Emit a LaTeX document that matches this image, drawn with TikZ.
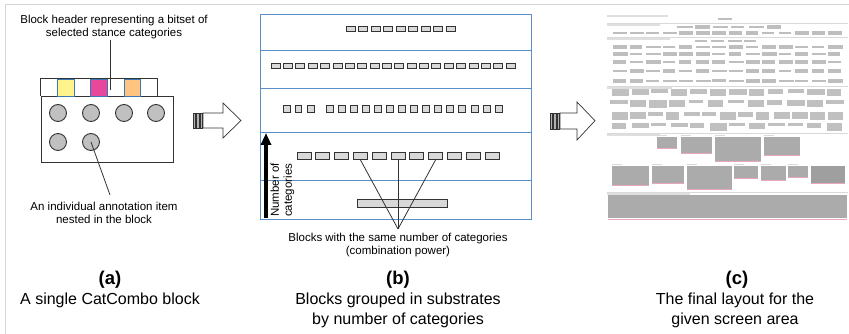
\documentclass[tikz,border=0pt]{standalone}
\usepackage{fontspec}
\setmainfont{Liberation Sans}
\usetikzlibrary{arrows.meta,calc}
\definecolor{hdrblue}{HTML}{3A78B5}
\definecolor{panelblue}{HTML}{5A8FC8}
\definecolor{cyel}{HTML}{FFF48C}
\definecolor{cmag}{HTML}{E8489C}
\definecolor{corg}{HTML}{FFC382}
\definecolor{itemgray}{HTML}{C0C0C0}
\definecolor{framegray}{HTML}{D6D6D6}
\definecolor{dk}{HTML}{333333}
\definecolor{blkfill}{HTML}{D9D9D9}
\definecolor{wordgray}{HTML}{BEBEBE}
\definecolor{boxgray}{HTML}{ABABAB}
\definecolor{pinkline}{HTML}{E8A8B8}
\tikzset{
  smalltxt/.style={inner sep=0pt, align=center, font=\fontsize{11.5}{13}\selectfont},
  captxt/.style={inner sep=0pt, align=center, font=\fontsize{16}{20}\selectfont},
  capbold/.style={inner sep=0pt, font=\bfseries\fontsize{18.5}{20}\selectfont},
  hcell/.style={rectangle, inner sep=0pt, minimum width=16.6pt, minimum height=17pt},
  ccell/.style={hcell, draw=hdrblue, line width=0.8pt},
  itemc/.style={circle, inner sep=0pt, minimum size=17pt, fill=itemgray, draw=dk, line width=0.9pt},
  blk/.style={rectangle, inner sep=0pt, fill=blkfill, draw=dk, line width=0.7pt},
  bline/.style={draw=panelblue, line width=1pt},
  conn/.style={draw=dk, line width=0.8pt},
  bigarrow/.style={draw=dk, line width=0.7pt, fill=white},
  tailbar/.style={draw=dk, fill=gray!60, line width=0.5pt},
}
\begin{document}
\begin{tikzpicture}[x=1pt,y=-1pt]
\useasboundingbox (0,0) rectangle (849,334);
% outer frame
\draw[framegray, line width=1pt] (5,334) -- (5,5) -- (849,5);

% ---------------- panel (a) ----------------
\node[smalltxt] (hdrtext) at (114,27.5) {Block header representing a bitset of\\selected stance categories};
\node[rectangle, draw=dk, line width=0.9pt, inner sep=0pt, minimum width=132pt, minimum height=66pt, anchor=north west] (body) at (41,96) {};
\node[hcell] (h1) at (49.3,87.5) {};
\node[ccell, fill=cyel] (h2) at (65.9,87.5) {};
\node[hcell] (h3) at (82.5,87.5) {};
\node[ccell, fill=cmag] (h4) at (99.1,87.5) {};
\node[hcell] (h5) at (115.7,87.5) {};
\node[ccell, fill=corg] (h6) at (132.3,87.5) {};
\node[hcell] (h7) at (148.9,87.5) {};
\draw[dk, line width=0.9pt] (h1.south west) -- (h1.north west) -- (h7.north east) -- (h7.south east);
\node[itemc] (c1) at (58,113) {};
\node[itemc] (c2) at (91,113) {};
\node[itemc] (c3) at (124,113) {};
\node[itemc] (c4) at (156,113) {};
\node[itemc] (c5) at (58,142) {};
\node[itemc] (c6) at (91,142) {};
\coordinate (hdrpt) at (110,90);
\draw[conn] (hdrtext.south -| hdrpt) -- (hdrpt);
\node[smalltxt] (itemtext) at (104,213) {An individual annotation item\\nested in the block};
\coordinate (itempt) at (110,195);
\draw[conn] (c6.center) -- (itempt);

% arrow 1
\draw[tailbar] (193,113) rectangle (195.6,128);
\draw[tailbar] (196.6,113) rectangle (198.8,128);
\draw[tailbar] (199.8,113) rectangle (201.8,128);
\draw[bigarrow] (203,113) -- (223,113) -- (223,103) -- (241,120.5) -- (223,138) -- (223,128) -- (203,128) -- cycle;

% ---------------- panel (b) ----------------
\draw[bline] (260,15) rectangle (531,219);
\foreach \yy in {51,89,133,181} { \draw[bline] (260,\yy) -- (531,\yy); }
% row 1
\foreach \i in {0,...,8} { \node[blk, minimum width=9pt, minimum height=4.5pt] (ra\i) at (350.5+\i*12.5,29) {}; }
% row 2
\foreach \i in {0,...,19} { \node[blk, minimum width=9pt, minimum height=4.5pt] (rb\i) at (275.5+\i*12.37,66) {}; }
% row 3
\foreach \i/\xx in {0/287,1/298.5,2/311,3/330,4/342,5/354,6/366,7/378,8/390,9/402,10/414,11/426,12/438,13/450,14/462,15/475,16/487,17/499} { \node[blk, minimum width=6.5pt, minimum height=6.5pt] (rc\i) at (\xx,109) {}; }
% row 4
\foreach \i in {0,...,10} { \node[blk, minimum width=14pt, minimum height=7pt] (rd\i) at (304+\i*18.8,156) {}; }
% row 5
\node[blk, minimum width=90pt, minimum height=8pt] (re0) at (402,203) {};
% connectors
\coordinate (apex) at (398,229);
\draw[conn] (apex) -- (rd3.south);
\draw[conn] (apex) -- (rd5.south);
\draw[conn] (apex) -- (rd7.south);
\node[smalltxt] (bltext) at (398,245.5) {Blocks with the same number of categories\\(combination power)};
% vertical arrow
\coordinate (vb) at (266,218);
\coordinate (vt) at (266,133);
\draw[black, line width=4.5pt, -{Triangle[width=10pt,length=12pt]}] (vb) -- (vt);
\node[smalltxt, rotate=90, align=left] (numcat) at (282.5,190) {Number of\\categories};

% arrow 2
\draw[tailbar] (550,113) rectangle (552.6,129);
\draw[tailbar] (553.6,113) rectangle (555.8,129);
\draw[tailbar] (556.8,113) rectangle (558.8,129);
\draw[bigarrow] (560,113) -- (577,113) -- (577,102) -- (595,120.7) -- (577,140) -- (577,129) -- (560,129) -- cycle;

% ---------------- panel (c) : screenshot ----------------
\pgfmathsetseed{17}
\foreach \yy in {23,37,86,133,192} { \draw[gray!30, line width=0.6pt] (607,\yy) -- (848,\yy); }
\foreach \yy/\xe in {16/668,25/660,39/670,88/672,135/660,194/690} { \fill[gray!25] (607,\yy-0.6) rectangle (\xe,\yy+0.6); }
\fill[wordgray] (718,18) rectangle (732,20.5);
\foreach \yy/\n/\xa/\xb in {27/6/677/785, 33/14/613/845, 41/4/695/760, 47/14/613/845, 54/14/613/845, 62/14/613/845, 71/14/613/845, 81/14/613/845} {
  \pgfmathsetmacro\pp{(\xb-\xa)/\n}
  \foreach \i in {1,...,\n} {
    \pgfmathsetmacro\xl{\xa+(\i-1)*\pp}
    \pgfmathsetmacro\ww{\pp*(0.72+0.18*rnd)}
    \pgfmathsetmacro\hh{2.2+1.8*rnd}
    \fill[wordgray] (\xl,\yy-\hh/2) rectangle ++(\ww,\hh);
  }
}
\foreach \yy/\n/\xa/\xb in {91/12/612/846, 102/12/610/846, 114/13/612/846, 125/12/612/846} {
  \pgfmathsetmacro\pp{(\xb-\xa)/\n}
  \foreach \i in {1,...,\n} {
    \pgfmathsetmacro\xl{\xa+(\i-1)*\pp}
    \pgfmathsetmacro\ww{\pp*(0.7+0.22*rnd)}
    \pgfmathsetmacro\hh{3+5*rnd}
    \fill[boxgray!75] (\xl,\yy-2) rectangle ++(\ww,\hh);
  }
}
\foreach \xa/\ya/\xb/\yb in {657/137/677/148, 681/137/712/153, 715/137/761/161, 764/137/800/155,
  612/166/649/185, 652/166/684/183, 687/166/732/189, 734/166/758/178, 761/166/786/180, 788/166/808/177} {
  \fill[boxgray] (\xa,\ya) rectangle (\xb,\yb);
  \fill[gray!30] (\xa,\ya-1.5) rectangle (\xa+10,\ya-0.5);
  \draw[pinkline, line width=0.7pt] (\xa,\yb+0.6) -- (\xb,\yb+0.6);
}
\fill[gray!75] (811,166) rectangle (845,183);
\draw[pinkline, line width=0.7pt] (811,183.6) -- (845,183.6);
\fill[boxgray] (608,195) rectangle (847,218);
\draw[pinkline, line width=0.8pt] (608,219) -- (847,219);

% ---------------- captions ----------------
\node[capbold] (labA) at (110,279.5) {(a)};
\node[captxt] (capA) at (110,300) {A single CatCombo block};
\node[capbold] (labB) at (398,279.5) {(b)};
\node[captxt] (capB) at (398,310) {Blocks grouped in substrates\\by number of categories};
\node[capbold] (labC) at (737,279.5) {(c)};
\node[captxt] (capC) at (735,310) {The final layout for the\\given screen area};
\end{tikzpicture}
\end{document}
